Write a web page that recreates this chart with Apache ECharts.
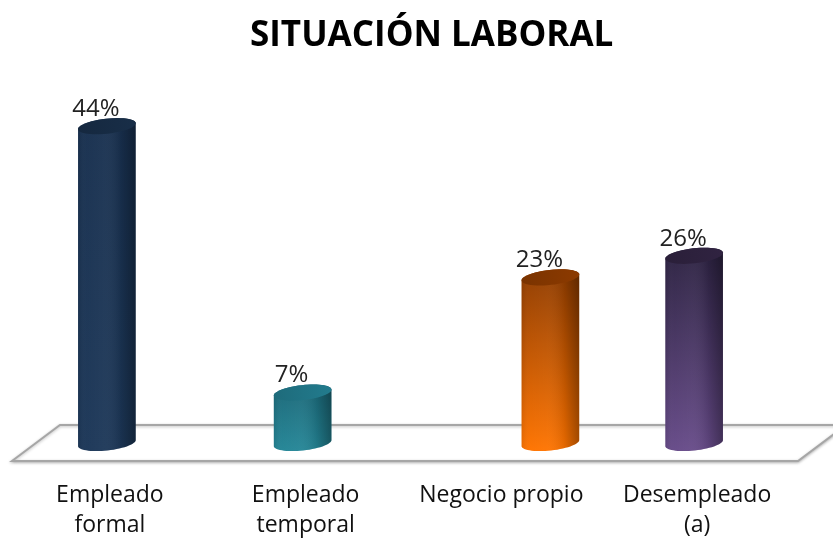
<!DOCTYPE html>
<html>
<head>
<meta charset="utf-8">
<title>Situación laboral</title>
<script src="https://cdn.jsdelivr.net/npm/echarts@6/dist/echarts.min.js"></script>
<style>
    html, body { margin: 0; padding: 0; background: #fff; }
    #main { width: 833px; height: 540px; }
</style>
</head>
<body>
<div id="main"></div>
<script>
// datos
var categorias = ['Empleado\nformal', 'Empleado\ntemporal', 'Negocio propio', 'Desempleado\n(a)'];
var porcentajes = [44, 7, 23, 26];

// colores de cada cilindro: [arriba, abajo, tapa]
var colores = [
    ['#18304f', '#1c3758', '#15283f'],
    ['#1b6878', '#248697', '#1e6b7b'],
    ['#8f3c00', '#ff7400', '#7a3300'],
    ['#2c2241', '#674b89', '#2a1f39']
];

var FUENTE = '"Open Sans", sans-serif';

function puntosElipse(cx, cy, rx, ry, rot, t0, t1, n) {
    var pts = [];
    var c = Math.cos(rot), s = Math.sin(rot);
    for (var i = 0; i <= n; i++) {
        var t = t0 + (t1 - t0) * i / n;
        var x = rx * Math.cos(t), y = ry * Math.sin(t);
        pts.push([cx + x * c - y * s, cy + x * s + y * c]);
    }
    return pts;
}

function renderCilindro(params, api) {
    var idx = params.dataIndex;
    var base = api.coord([idx, 0]);
    var tope = api.coord([idx, api.value(1)]);
    // la barra de "Negocio propio" está corrida a la derecha en el original
    var cx = base[0] - 3 + (idx === 2 ? 52 : 0);
    var yb = base[1], yt = tope[1];
    var rx = 29, ry = 7.5, rot = -0.11;
    var col = colores[idx];

    var cuerpo = puntosElipse(cx, yb, rx, ry, rot, 0, Math.PI, 30)
        .concat(puntosElipse(cx, yt, rx, ry, rot, Math.PI, 2 * Math.PI, 30));
    var tapa = puntosElipse(cx, yt, rx, ry, rot, 0, 2 * Math.PI, 48);

    return {
        type: 'group',
        children: [
            {
                type: 'polygon',
                shape: {points: cuerpo},
                style: {
                    fill: new echarts.graphic.LinearGradient(0, 0, 0, 1, [
                        {offset: 0, color: col[0]},
                        {offset: 1, color: col[1]}
                    ])
                }
            },
            {
                type: 'polygon',
                shape: {points: cuerpo},
                style: {
                    fill: new echarts.graphic.LinearGradient(0, 0, 1, 0, [
                        {offset: 0, color: 'rgba(0,0,0,0.08)'},
                        {offset: 0.15, color: 'rgba(255,255,255,0.02)'},
                        {offset: 0.45, color: 'rgba(255,255,255,0.04)'},
                        {offset: 0.75, color: 'rgba(0,0,0,0.1)'},
                        {offset: 1, color: 'rgba(0,0,0,0.35)'}
                    ])
                }
            },
            {
                type: 'polygon',
                shape: {points: tapa},
                style: {
                    fill: new echarts.graphic.LinearGradient(0, 0, 1, 0, [
                        {offset: 0, color: col[2]},
                        {offset: 1, color: echarts.color.lift(col[2], -0.15)}
                    ])
                }
            },
            {
                type: 'text',
                style: {
                    text: api.value(1) + '%',
                    x: cx - 11,
                    y: yt - 5,
                    align: 'center',
                    verticalAlign: 'bottom',
                    fontSize: 24,
                    fontFamily: FUENTE,
                    fill: '#222'
                }
            }
        ]
    };
}

var datos = porcentajes.map(function (v, i) { return [i, v]; });

var chart = echarts.init(document.getElementById('main'));
chart.setOption({
    backgroundColor: '#fff',
    animation: false,
    title: {
        text: 'SITUACIÓN LABORAL',
        left: 245,
        top: 14,
        textStyle: {
            fontFamily: FUENTE,
            fontWeight: 'bold',
            fontSize: 35,
            color: '#000'
        }
    },
    grid: {
        left: 12,
        right: 38,
        top: 83,
        bottom: 97
    },
    xAxis: {
        type: 'category',
        data: categorias,
        axisLine: {show: false},
        axisTick: {show: false},
        axisLabel: {
            margin: 37,
            fontFamily: FUENTE,
            fontSize: 23,
            lineHeight: 30,
            color: '#111',
            interval: 0
        }
    },
    yAxis: {
        type: 'value',
        min: 0,
        max: 50,
        show: false,
        splitLine: {show: false}
    },
    graphic: [
        {
            // piso del gráfico 3D
            type: 'polygon',
            z: 0,
            shape: {points: [[12, 461], [60, 425], [846, 425], [798, 461]]},
            style: {
                fill: '#fff',
                stroke: '#a6a6a6',
                lineWidth: 2,
                shadowBlur: 3,
                shadowOffsetY: 1,
                shadowColor: 'rgba(0,0,0,0.25)'
            }
        }
    ],
    series: [
        {
            type: 'custom',
            z: 5,
            renderItem: renderCilindro,
            data: datos
        }
    ]
});
</script>
</body>
</html>
